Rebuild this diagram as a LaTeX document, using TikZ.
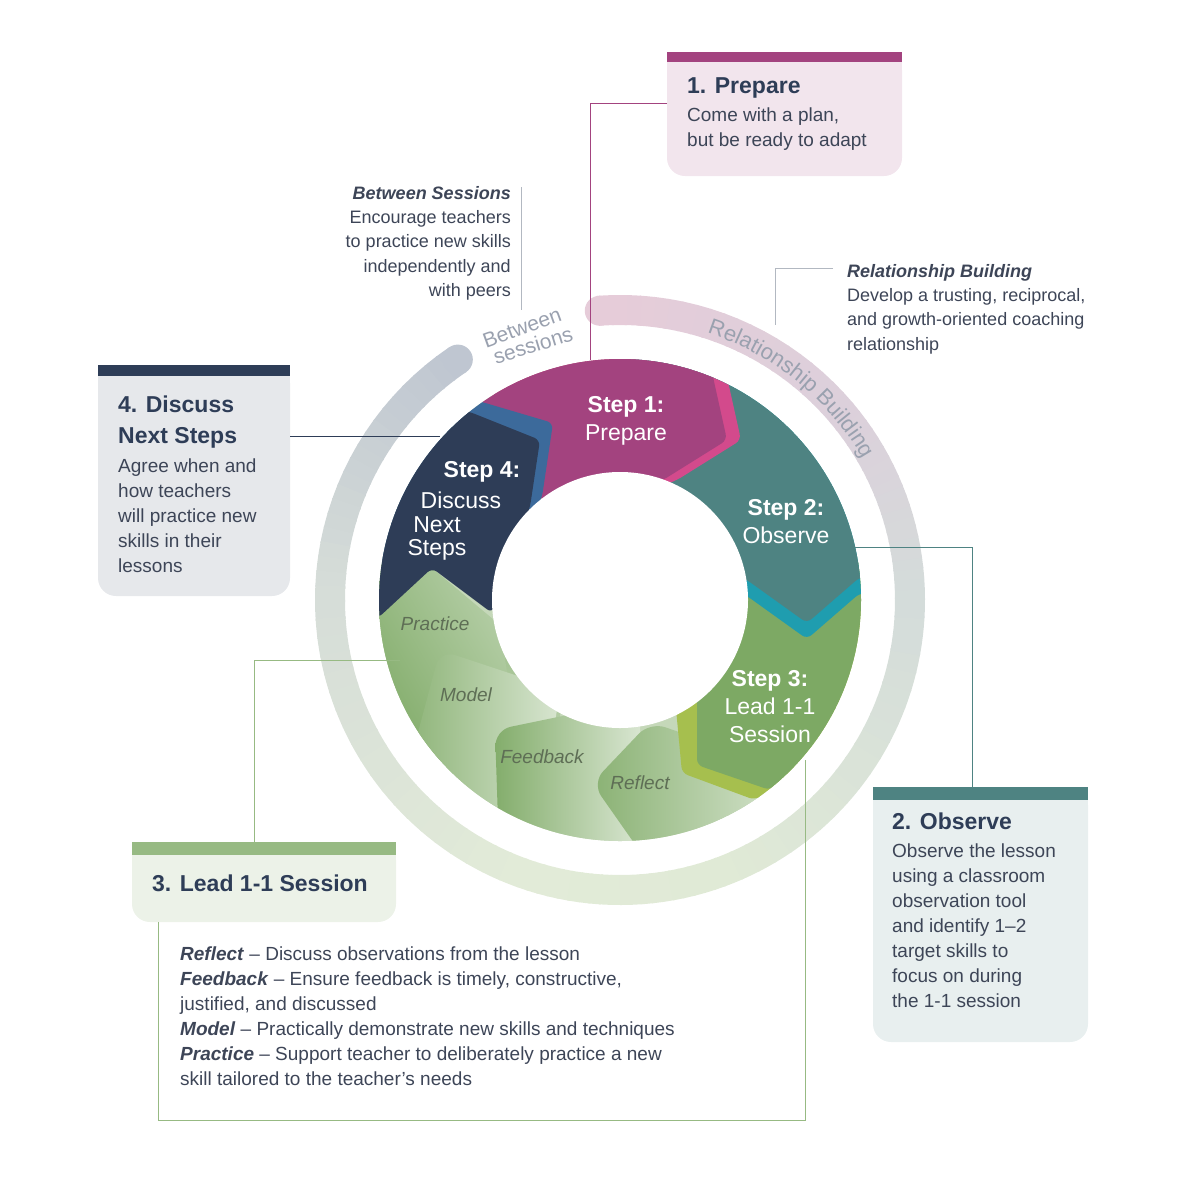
\documentclass[tikz,border=0pt]{standalone}
\usepackage{fontspec}
\setmainfont{Liberation Sans}
\usetikzlibrary{calc,decorations.text}
\definecolor{navy}{HTML}{2E3D57}
\definecolor{blueac}{HTML}{3C6A9B}
\definecolor{mag}{HTML}{A3437F}
\definecolor{pinkac}{HTML}{D34A8C}
\definecolor{teal}{HTML}{4E8382}
\definecolor{cyanac}{HTML}{1F9DAF}
\definecolor{grn}{HTML}{7DA964}
\definecolor{ygrn}{HTML}{A6BF4E}
\definecolor{txt}{HTML}{3D4557}
\definecolor{tilet}{HTML}{5E6E55}
\definecolor{arct}{HTML}{9AA1AF}
\definecolor{g1}{HTML}{BFC6D1}
\definecolor{g2}{HTML}{D6DDD8}
\definecolor{g3}{HTML}{E2EBD8}
\definecolor{g4}{HTML}{E0EAD6}
\definecolor{g5}{HTML}{D4DCDA}
\definecolor{g6}{HTML}{DCD0DB}
\definecolor{g7}{HTML}{E6CCD9}
\tikzset{
  body/.style={font=\fontsize{19}{25}\selectfont, text=txt, align=left, inner sep=0},
  ttl/.style={font=\fontsize{23}{31}\selectfont\bfseries, text=navy, align=left, inner sep=0},
  stp/.style={font=\fontsize{23}{28}\selectfont, text=white, align=center, inner sep=0},
  tile/.style={font=\fontsize{19}{22}\selectfont\itshape, text=tilet, inner sep=0},
  note/.style={font=\fontsize{18}{24.3}\selectfont, text=txt, inner sep=0},
  ch/.style={rounded corners=6},
}
\begin{document}
\begin{tikzpicture}[x=1pt,y=-1pt]
\useasboundingbox (0,0) rectangle (1200,1200);
\coordinate (C) at (620,600);
% outer track
\foreach \s/\e/\ca/\cb in {124/180/g1/g2,180/250/g2/g3,250/290/g3/g4,290/360/g4/g5,360/400/g5/g6,400/454/g6/g7}{
  \foreach \i in {0,...,19}{
    \pgfmathsetmacro\aa{\s+(\e-\s)*\i/20}
    \pgfmathsetmacro\bb{\s+(\e-\s)*(\i+1)/20+0.4}
    \pgfmathtruncatemacro\p{100-100*\i/19}
    \draw[line width=30, color=\ca!\p!\cb] ($(C)+(-\aa:290)$) arc[start angle=-\aa, end angle=-\bb, radius=290];
  }
}
\fill[g1] ($(C)+(-124:290)$) circle (15);
\fill[g7] ($(C)+(-94:290)$) circle (15);
\path[decorate, decoration={text along path, text align=center,
  text={|\fontsize{22}{22}\selectfont\color{arct}|Relationship Building}}]
  ($(C)+(-80:281)$) arc[start angle=-80, end angle=-22, radius=281];
\node[font=\fontsize{21}{21}\selectfont, text=arct, rotate=20, inner sep=0] (bs1) at (522,328) {Between};
\node[font=\fontsize{21}{21}\selectfont, text=arct, rotate=17, inner sep=0] (bs2) at (533,345) {sessions};
% wheel
\begin{scope}
\clip (C) circle (241);
\fill[fill=grn!45] (C) circle (241);
\shade[left color=grn!85, right color=grn!35, shading angle=0] (330,560) -- (432,568) -- (560,700) -- (560,860) -- (330,860) -- cycle;
\shade[ch, left color=grn!95, right color=grn!55, shading angle=120] (378,618) -- (432,568) -- (500,625) -- (520,760) -- (380,760) -- cycle;
\shade[rounded corners=16, left color=grn!90, right color=grn!30] (440,650) -- (560,690) -- (540,820) -- (400,800) -- cycle;
\shade[rounded corners=16, left color=grn!95, right color=grn!30] (495,730) -- (640,700) -- (640,880) -- (500,880) -- cycle;
\shade[rounded corners=16, left color=grn!90, right color=grn!40] (592,783) -- (650,722) -- (760,760) -- (760,880) -- (660,880) -- cycle;
\fill[ygrn, ch] (675,698) -- (682,773) -- (755,800) -- (900,700) -- (900,560) -- (675,560) -- cycle;
\fill[grn, ch] (697,690) -- (697,765) -- (770,790) -- (900,700) -- (900,560) -- (697,560) -- cycle;
\fill[cyanac, ch] (620,356) -- (900,356) -- (900,593) -- (860,593) -- (807,639) -- (747,596) -- (600,516) -- cycle;
\fill[teal, ch] (620,340) -- (900,340) -- (900,577) -- (860,577) -- (807,623) -- (747,580) -- (600,500) -- cycle;
\fill[pinkac, ch] (474,340) -- (724,340) -- (727,377) -- (741,440) -- (677,480) -- (574,520) -- (514,450) -- cycle;
\fill[mag, ch] (460,340) -- (710,340) -- (713,377) -- (727,440) -- (663,480) -- (560,520) -- (500,450) -- cycle;
\fill[blueac, ch] (352,370) -- (482,402) -- (553,423) -- (542,497) -- (515,560) -- (352,560) -- cycle;
\fill[navy, ch] (340,380) -- (470,412) -- (540,440) -- (530,507) -- (492,613) -- (432,568) -- (378,618) -- (340,618) -- cycle;
\end{scope}
\fill[white] (C) circle (128);
\node[stp] (s1) at (626,421) {\textbf{Step 1:}\\Prepare};
\node[stp] (s2) at (786,522) {\textbf{Step 2:}\\Observe};
\node[stp] (s3) at (770,707) {\textbf{Step 3:}\\Lead 1-1\\Session};
\node[stp] (s4a) at (482,472) {\textbf{Step 4:}};
\node[stp] (s4b) at (461,500) {Discuss};
\node[stp] (s4c) at (437,525) {Next};
\node[stp] (s4d) at (437,550) {Steps};
\node[tile] (tp) at (435,624) {Practice};
\node[tile] (tm) at (466,695) {Model};
\node[tile] (tf) at (542,757) {Feedback};
\node[tile] (tr) at (640,783) {Reflect};
% notes
\draw[g1!80!gray, line width=1] (521,187) -- (521,310);
\node[note, anchor=north east, align=right] (bsn) at (511,186) {\textbf{\textit{Between Sessions}}\\Encourage teachers\\to practice new skills\\independently and\\with peers};
\coordinate (rb1) at (833,268);
\coordinate (rb2) at (775,325);
\draw[g1!80!gray, line width=1] (rb1) -| (rb2);
\node[note, anchor=north west, align=left] (rbn) at (847,264) {\textbf{\textit{Relationship Building}}\\Develop a trusting, reciprocal,\\and growth-oriented coaching\\relationship};
% box 1
\fill[mag!14, rounded corners=18] (667,52) rectangle (902,176);
\fill[mag!14] (667,52) rectangle (902,100);
\fill[mag] (667,52) rectangle (902,62);
\node[ttl, anchor=base west] (b1t) at (687,93) {1. Prepare};
\node[body, anchor=north west] (b1b) at (687,108) {Come with a plan,\\but be ready to adapt};
\coordinate (b1c) at (667,103);
\coordinate (b1d) at (590,360);
\draw[mag, line width=1] (b1c) -| (b1d);
% box 4
\fill[navy!12, rounded corners=18] (98,365) rectangle (290,596);
\fill[navy!12] (98,365) rectangle (290,420);
\fill[navy] (98,365) rectangle (290,376);
\node[ttl, anchor=north west] (b4t) at (118,396) {4. Discuss\\Next Steps};
\node[body, anchor=north west] (b4b) at (118,459) {Agree when and\\how teachers\\will practice new\\skills in their\\lessons};
\coordinate (b4c) at (290,436);
\coordinate (b4d) at (440,436);
\draw[navy, line width=1] (b4c) -- (b4d);
% box 2
\fill[teal!13, rounded corners=18] (873,787) rectangle (1088,1042);
\fill[teal!13] (873,787) rectangle (1088,840);
\fill[teal] (873,787) rectangle (1088,800);
\node[ttl, anchor=base west] (b2t) at (892,829) {2. Observe};
\node[body, anchor=north west] (b2b) at (892,844) {Observe the lesson\\using a classroom\\observation tool\\and identify 1--2\\target skills to\\focus on during\\the 1-1 session};
\coordinate (b2c) at (855,547);
\coordinate (b2d) at (972,787);
\draw[teal, line width=1] (b2c) -| (b2d);
% box 3
\fill[grn!15, rounded corners=18] (132,842) rectangle (396,922);
\fill[grn!15] (132,842) rectangle (396,880);
\fill[grn!80] (132,842) rectangle (396,855);
\node[ttl, anchor=base west] (b3t) at (152,891) {3. Lead 1-1 Session};
\coordinate (b3c) at (254,842);
\coordinate (b3d) at (400,660);
\draw[grn!80, line width=1] (b3c) |- (b3d);
\coordinate (b3e) at (158,922);
\coordinate (b3f) at (805,760);
\draw[grn!80, line width=1] (b3e) |- (805,1120) -- (b3f);
\node[body, anchor=north west] (b3b) at (180,947) {\textbf{\textit{Reflect}} -- Discuss observations from the lesson\\\textbf{\textit{Feedback}} -- Ensure feedback is timely, constructive,\\justified, and discussed\\\textbf{\textit{Model}} -- Practically demonstrate new skills and techniques\\\textbf{\textit{Practice}} -- Support teacher to deliberately practice a new\\skill tailored to the teacher's needs};
\end{tikzpicture}
\end{document}
